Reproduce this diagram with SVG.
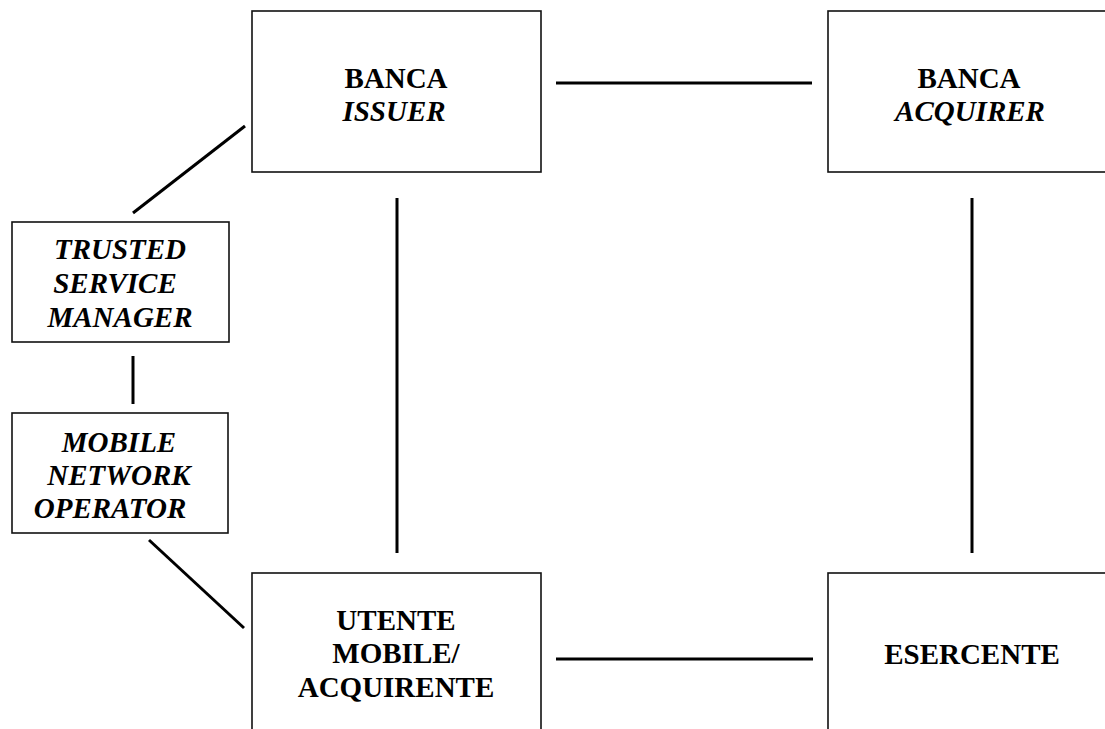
<svg xmlns="http://www.w3.org/2000/svg" width="1105" height="729" viewBox="0 0 1105 729">
<style>
.box{fill:#fff;stroke:#111;stroke-width:1.6}
.t{font-family:"Liberation Serif","Times New Roman",serif;font-size:29px;font-weight:bold;text-anchor:middle;fill:#000}
.i{font-style:italic}
.c{stroke:#000;stroke-width:3;fill:none}
</style>
<rect width="1105" height="729" fill="#fff"/>
<g id="connectors">
<line class="c" x1="556" y1="83" x2="812" y2="83"/>
<line class="c" x1="556" y1="659" x2="813" y2="659"/>
<line class="c" x1="397" y1="198" x2="397" y2="553"/>
<line class="c" x1="972" y1="198" x2="972" y2="553"/>
<line class="c" x1="133" y1="213" x2="245" y2="126"/>
<line class="c" x1="133" y1="356" x2="133" y2="404"/>
<line class="c" x1="149" y1="540" x2="244" y2="628"/>
</g>
<g id="issuer">
<rect class="box" x="252" y="11" width="289" height="161"/>
<text class="t" x="396" y="88">BANCA</text>
<text class="t i" x="394" y="121">ISSUER</text>
</g>
<g id="acquirer">
<rect class="box" x="828" y="11" width="289" height="161"/>
<text class="t" x="969" y="88">BANCA</text>
<text class="t i" x="970" y="121">ACQUIRER</text>
</g>
<g id="tsm">
<rect class="box" x="12" y="222" width="217" height="120"/>
<text class="t i" x="120" y="259">TRUSTED</text>
<text class="t i" x="115" y="293">SERVICE</text>
<text class="t i" x="120" y="327">MANAGER</text>
</g>
<g id="mno">
<rect class="box" x="12" y="413" width="216" height="120"/>
<text class="t i" x="119" y="452">MOBILE</text>
<text class="t i" x="119" y="485">NETWORK</text>
<text class="t i" x="110" y="518">OPERATOR</text>
</g>
<g id="utente">
<rect class="box" x="252" y="573" width="289" height="170"/>
<text class="t" x="396" y="630">UTENTE</text>
<text class="t" x="396" y="663">MOBILE/</text>
<text class="t" x="396" y="697">ACQUIRENTE</text>
</g>
<g id="esercente">
<rect class="box" x="828" y="573" width="289" height="170"/>
<text class="t" x="972" y="664">ESERCENTE</text>
</g>
</svg>
